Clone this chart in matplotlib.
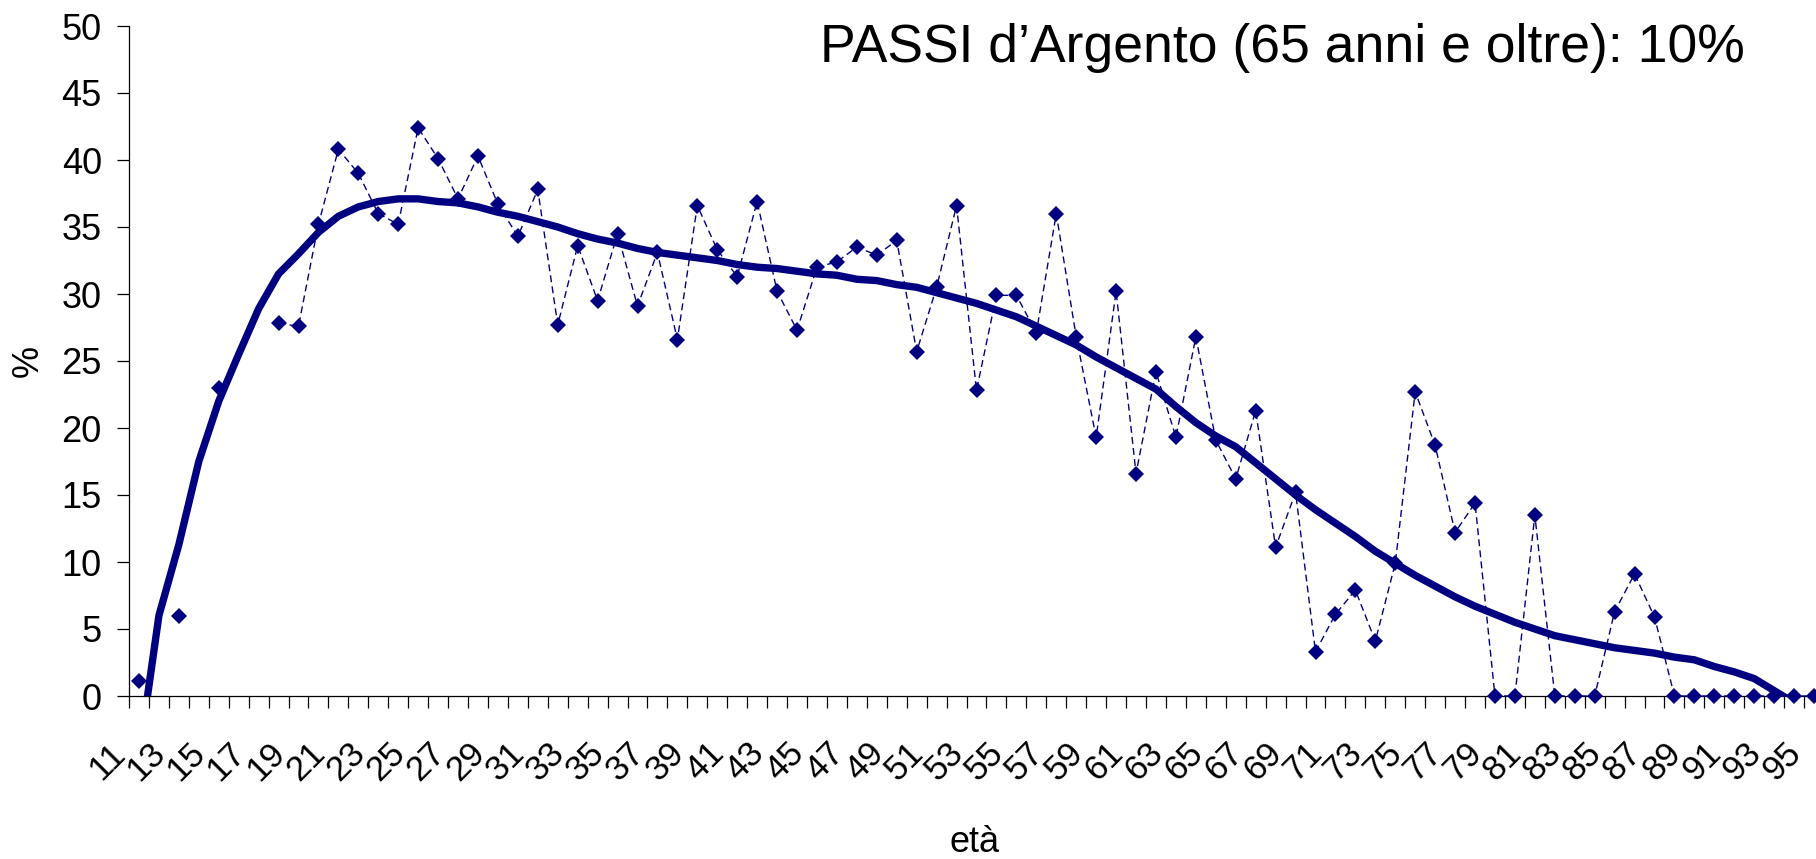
import numpy as np
import matplotlib
matplotlib.use("Agg")
import matplotlib.pyplot as plt
from matplotlib.transforms import ScaledTranslation, blended_transform_factory

plt.rcParams['font.family'] = ['Liberation Sans', 'DejaVu Sans']

# age classes on the x axis
eta = list(range(11, 96))

# observed % by age (nan = no data at that age)
perc = [1.1, np.nan, 6.0, np.nan, 23.0, np.nan, np.nan, 27.8, 27.6, 35.2,
        40.8, 39.0, 36.0, 35.2, 42.4, 40.1, 37.1, 40.3, 36.7, 34.3,
        37.8, 27.7, 33.6, 29.5, 34.5, 29.1, 33.1, 26.6, 36.6, 33.3,
        31.3, 36.9, 30.2, 27.3, 32.0, 32.4, 33.5, 32.9, 34.0, 25.7,
        30.5, 36.6, 22.8, 29.9, 29.9, 27.1, 36.0, 26.8, 19.3, 30.2,
        16.6, 24.2, 19.3, 26.8, 19.1, 16.2, 21.3, 11.1, 15.2, 3.3,
        6.1, 7.9, 4.1, 9.9, 22.7, 18.7, 12.2, 14.4, 0, 0,
        13.5, 0, 0, 0, 6.3, 9.1, 5.9, 0, 0, 0,
        0, 0, 0, 0, 0]

# trend line (goes below 0 at the ends)
trend = [-4.5, 6.0, 11.3, 17.5, 22.0, 25.5, 28.9, 31.5, 33.0, 34.6,
         35.8, 36.5, 36.9, 37.1, 37.1, 36.9, 36.8, 36.5, 36.1, 35.8,
         35.4, 35.0, 34.5, 34.1, 33.8, 33.4, 33.1, 32.9, 32.7, 32.5,
         32.2, 32.0, 31.9, 31.7, 31.5, 31.4, 31.1, 31.0, 30.7, 30.5,
         30.1, 29.7, 29.3, 28.8, 28.3, 27.6, 26.9, 26.2, 25.3, 24.5,
         23.7, 22.9, 21.6, 20.4, 19.4, 18.6, 17.4, 16.2, 15.0, 13.9,
         12.9, 11.9, 10.8, 9.9, 9.0, 8.2, 7.4, 6.7, 6.1, 5.5,
         5.0, 4.5, 4.2, 3.9, 3.6, 3.4, 3.2, 2.9, 2.7, 2.2,
         1.8, 1.3, 0.4, -0.5, np.nan]

yticks = list(range(0, 51, 5))
xlabels = [str(a) for a in range(11, 96, 2)]
titolo = "PASSI d\u2019Argento (65 anni e oltre): 10%"
navy = '#000080'

W, H = 1816, 859
fig = plt.figure(figsize=(W / 100, H / 100), dpi=100)
# plot area in pixels: x 129..1824 (runs past the right edge), y 26..696
ax = fig.add_axes([129 / W, (H - 696) / H, 1695 / W, 670 / H])

ax.plot(eta, perc, color=navy, lw=1.0, ls=(0, (5, 3)), marker='D',
        markersize=8.5, markeredgewidth=0, clip_on=False, zorder=3)
ax.plot(eta, trend, color=navy, lw=5.3, solid_joinstyle='round', zorder=4)

ax.set_xlim(10.5, 95.5)
ax.set_ylim(0, 50)

for s in ['top', 'right']:
    ax.spines[s].set_visible(False)
for s in ['left', 'bottom']:
    ax.spines[s].set_linewidth(0.9)

ax.set_yticks(yticks)
ax.tick_params(axis='y', direction='out', length=8.6, width=0.9,
               labelsize=26, pad=11)
# category boundaries as ticks, labels drawn as text
ax.set_xticks(np.arange(10.5, 96, 1.0))
ax.set_xticklabels([])
ax.tick_params(axis='x', direction='out', length=8.6, width=0.9)

off = blended_transform_factory(ax.transData, ax.transAxes) + \
    ScaledTranslation(-32 / 100, -66 / 100, fig.dpi_scale_trans)
for a, lab in zip(range(11, 96, 2), xlabels):
    ax.text(a, 0, lab, transform=off, rotation=45, ha='center', va='center',
            fontsize=25, clip_on=False)

ax.set_xlabel("et\u00e0", fontsize=26)
ax.xaxis.label.set_va('baseline')
ax.xaxis.set_label_coords(0.499, -0.2328)
ax.set_ylabel("%", fontsize=26)
ax.yaxis.label.set_va('center')
ax.yaxis.set_label_coords(-0.0596, 0.5)

fig.text(820 / W, 1 - 61.7 / H, titolo, fontsize=38.5, ha='left', va='baseline')

fig.savefig('out.png', dpi=100)
